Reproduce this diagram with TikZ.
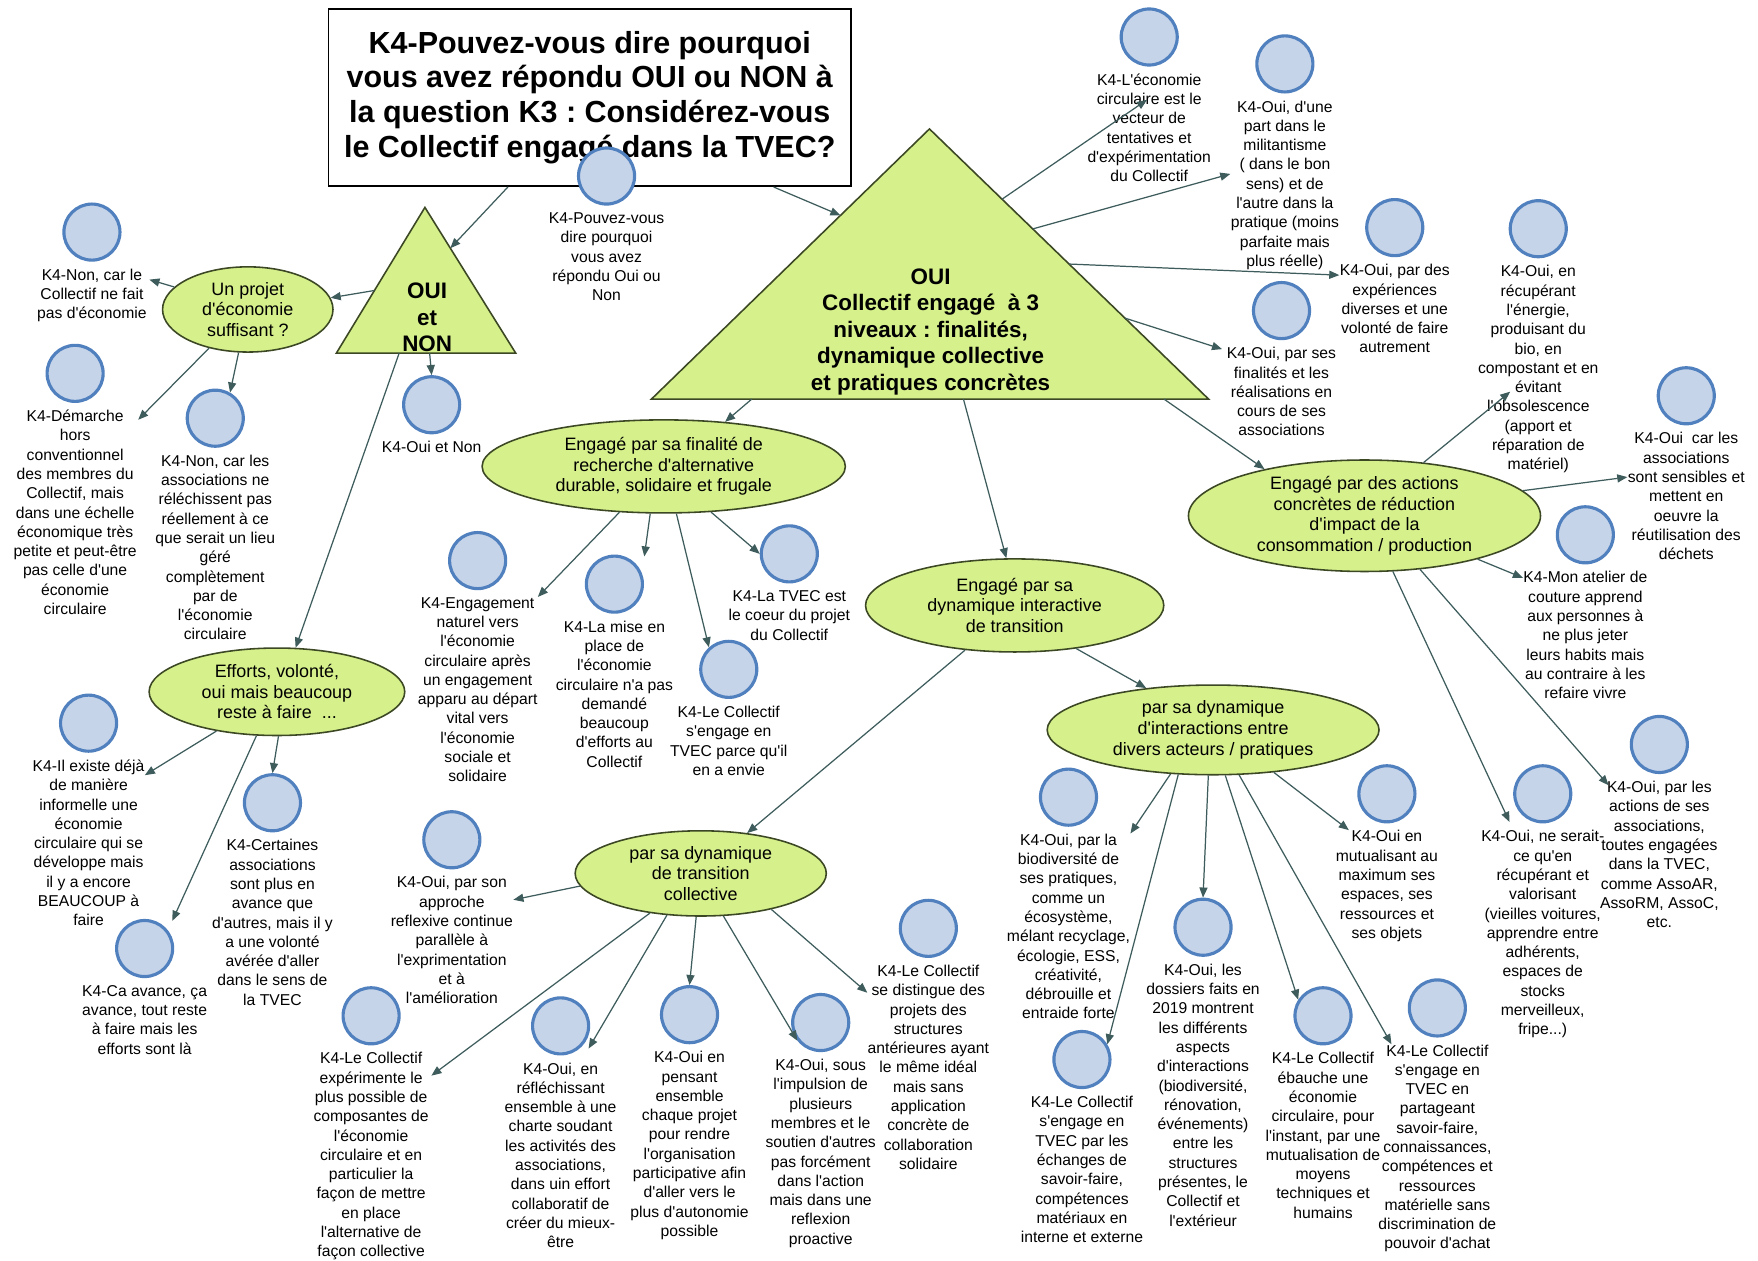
\documentclass[tikz,border=0pt]{standalone}
\usepackage{fontspec}
\setmainfont{Liberation Sans}[Ligatures=TeXOff]
\frenchspacing
\definecolor{bulle}{RGB}{198,212,234}
\definecolor{bullebord}{RGB}{80,128,190}
\definecolor{citron}{RGB}{214,240,140}
\definecolor{citronbord}{RGB}{60,72,36}
\definecolor{fleche}{RGB}{62,92,92}
\usetikzlibrary{arrows.meta,positioning,calc,shapes.geometric}
\newcommand{\petit}{\fontsize{7}{8.6}\selectfont}
\newcommand{\moyen}{\fontsize{8}{9.2}\selectfont}
\tikzset{
  leaf/.style={circle,draw=bullebord,fill=bulle,line width=1.4pt,minimum size=25pt,inner sep=0pt},
  leaftxt/.style={font=\petit,align=center,inner sep=0pt},
  topic/.style={ellipse,draw=citronbord,fill=citron,line width=0.7pt,font=\moyen,align=center,inner sep=0pt},
  tri/.style={draw=citronbord,fill=citron,line width=0.7pt},
  trilab/.style={font=\fontsize{10}{11.8}\selectfont\bfseries,align=center,inner sep=0pt},
  link/.style={-{Triangle[length=4.5pt,width=3.6pt]},fleche,line width=0.55pt},
  titlebox/.style={draw=black,fill=white,line width=0.8pt,font=\fontsize{13.6}{15.5}\selectfont\bfseries,
    align=center,minimum width=233pt,minimum height=79pt,inner sep=0pt},
}

\begin{document}
\begin{tikzpicture}[x=0.5pt,y=-0.5pt]
  \path[use as bounding box,fill=white] (0,0) rectangle (1568,1124);

  % question
  \node[titlebox] (titre) at (526,87) {\raisebox{-2pt}{\parbox{230pt}{\centering K4-Pouvez-vous dire pourquoi\\vous avez répondu OUI ou NON à\\la question K3 : Considérez-vous\\le Collectif engagé dans la TVEC?}}};
  \node[leaf] (cQuestion) at (541,157) {};
  \node[leaftxt,below=3pt of cQuestion] (tQuestion) {K4-Pouvez-vous\\dire pourquoi\\vous avez\\répondu Oui ou\\Non};

  % les deux triangles
  \coordinate (ouiH) at (379,185); \coordinate (ouiG) at (300,315); \coordinate (ouiD) at (460,315);
  \draw[tri] (ouiH) -- (ouiG) -- (ouiD) -- cycle;
  \node[trilab] (ouinon) at (381,283) {OUI\\et\\NON};
  \coordinate (grH) at (829,115); \coordinate (grG) at (581,356); \coordinate (grD) at (1078,356);
  \draw[tri] (grH) -- (grG) -- (grD) -- cycle;
  \node[trilab] (oui) at (830,296) {OUI\\Collectif engagé~ à 3\\niveaux : finalités,\\dynamique collective\\et pratiques concrètes};

  % ellipses
  \node[topic,minimum width=76pt,minimum height=38pt] (projet) at (221,276) {Un projet\\d'économie\\suffisant ?};
  \node[topic,minimum width=114pt,minimum height=39pt] (efforts) at (247,617) {Efforts, volonté,\\oui mais beaucoup\\reste à faire~ ...};
  \node[topic,minimum width=162pt,minimum height=41.5pt] (fin) at (592,416) {Engagé par sa finalité de\\recherche d'alternative\\durable, solidaire et frugale};
  \node[topic,minimum width=133pt,minimum height=41.5pt] (inter) at (905,540) {Engagé par sa\\dynamique interactive\\de transition};
  \node[topic,minimum width=112pt,minimum height=38pt] (trans) at (625,779) {par sa dynamique\\de transition\\collective};
  \node[topic,minimum width=148pt,minimum height=40pt] (inact) at (1082,651) {par sa dynamique\\d'interactions entre\\divers acteurs / pratiques};
  \node[topic,minimum width=157pt,minimum height=49.5pt] (act) at (1217,460) {Engagé par des actions\\concrètes de réduction\\d'impact de la\\consommation / production};

  % reponses : OUI et NON
  \node[leaf] (cNonFait) at (82,207) {};
  \node[leaftxt,below=3pt of cNonFait] (tNonFait) {K4-Non, car le\\Collectif ne fait\\pas d'économie};
  \node[leaf] (cDemarche) at (67,333) {};
  \node[leaftxt,below=3pt of cDemarche] (tDemarche) {K4-Démarche\\hors\\conventionnel\\des membres du\\Collectif, mais\\dans une échelle\\économique très\\petite et peut-être\\pas celle d'une\\économie\\circulaire};
  \node[leaf] (cReflech) at (192,373) {};
  \node[leaftxt,below=3pt of cReflech] (tReflech) {K4-Non, car les\\associations ne\\réléchissent pas\\réellement à ce\\que serait un lieu\\géré\\complètement\\par de\\l'économie\\circulaire};
  \node[leaf] (cOuiNon) at (385,361) {};
  \node[leaftxt,below=3pt of cOuiNon] (tOuiNon) {K4-Oui et Non};
  \node[leaf] (cExiste) at (79,645) {};
  \node[leaftxt,below=3pt of cExiste] (tExiste) {K4-Il existe déjà\\de manière\\informelle une\\économie\\circulaire qui se\\développe mais\\il y a encore\\BEAUCOUP à\\faire};
  \node[leaf] (cCertaines) at (243,716) {};
  \node[leaftxt,below=3pt of cCertaines] (tCertaines) {K4-Certaines\\associations\\sont plus en\\avance que\\d'autres, mais il y\\a une volonté\\avérée d'aller\\dans le sens de\\la TVEC};
  \node[leaf] (cAvance) at (129,846) {};
  \node[leaftxt,below=3pt of cAvance] (tAvance) {K4-Ca avance, ça\\avance, tout reste\\à faire mais les\\efforts sont là};

  % reponses : finalite
  \node[leaf] (cNaturel) at (426,500) {};
  \node[leaftxt,below=3pt of cNaturel] (tNaturel) {K4-Engagement\\naturel vers\\l'économie\\circulaire après\\un engagement\\apparu au départ\\vital vers\\l'économie\\sociale et\\solidaire};
  \node[leaf] (cMise) at (548,521) {};
  \node[leaftxt,below=3pt of cMise] (tMise) {K4-La mise en\\place de\\l'économie\\circulaire n'a pas\\demandé\\beaucoup\\d'efforts au\\Collectif};
  \node[leaf] (cEnvie) at (650,597) {};
  \node[leaftxt,below=3pt of cEnvie] (tEnvie) {K4-Le Collectif\\s'engage en\\TVEC parce qu'il\\en a envie};
  \node[leaf] (cCoeur) at (704,494) {};
  \node[leaftxt,below=3pt of cCoeur] (tCoeur) {K4-La TVEC est\\le coeur du projet\\du Collectif};

  % reponses : transition collective
  \node[leaf] (cReflexive) at (403,749) {};
  \node[leaftxt,below=3pt of cReflexive] (tReflexive) {K4-Oui, par son\\approche\\reflexive continue\\parallèle à\\l'exprimentation\\et à\\l'amélioration};
  \node[leaf] (cExperimente) at (331,906) {};
  \node[leaftxt,below=3pt of cExperimente] (tExperimente) {K4-Le Collectif\\expérimente le\\plus possible de\\composantes de\\l'économie\\circulaire et en\\particulier la\\façon de mettre\\en place\\l'alternative de\\façon collective};
  \node[leaf] (cCharte) at (500,915) {};
  \node[leaftxt,below=3pt of cCharte] (tCharte) {K4-Oui, en\\réfléchissant\\ensemble à une\\charte soudant\\les activités des\\associations,\\dans uin effort\\collaboratif de\\créer du mieux-\\être};
  \node[leaf] (cPensant) at (615,905) {};
  \node[leaftxt,below=3pt of cPensant] (tPensant) {K4-Oui en\\pensant\\ensemble\\chaque projet\\pour rendre\\l'organisation\\participative afin\\d'aller vers le\\plus d'autonomie\\possible};
  \node[leaf] (cImpulsion) at (732,912) {};
  \node[leaftxt,below=3pt of cImpulsion] (tImpulsion) {K4-Oui, sous\\l'impulsion de\\plusieurs\\membres et le\\soutien d'autres\\pas forcément\\dans l'action\\mais dans une\\reflexion\\proactive};
  \node[leaf] (cDistingue) at (828,828) {};
  \node[leaftxt,below=3pt of cDistingue] (tDistingue) {K4-Le Collectif\\se distingue des\\projets des\\structures\\antérieures ayant\\le même idéal\\mais sans\\application\\concrète de\\collaboration\\solidaire};

  % reponses : interactions
  \node[leaf] (cBiodiv) at (953,711) {};
  \node[leaftxt,below=3pt of cBiodiv] (tBiodiv) {K4-Oui, par la\\biodiversité de\\ses pratiques,\\comme un\\écosystème,\\mélant recyclage,\\écologie, ESS,\\créativité,\\débrouille et\\entraide forte};
  \node[leaf] (cEchanges) at (965,945) {};
  \node[leaftxt,below=3pt of cEchanges] (tEchanges) {K4-Le Collectif\\s'engage en\\TVEC par les\\échanges de\\savoir-faire,\\compétences\\matériaux en\\interne et externe};
  \node[leaf] (cDossiers) at (1073,827) {};
  \node[leaftxt,below=3pt of cDossiers] (tDossiers) {K4-Oui, les\\dossiers faits en\\2019 montrent\\les différents\\aspects\\d'interactions\\(biodiversité,\\rénovation,\\événements)\\entre les\\structures\\présentes, le\\Collectif et\\l'extérieur};
  \node[leaf] (cEbauche) at (1180,906) {};
  \node[leaftxt,below=3pt of cEbauche] (tEbauche) {K4-Le Collectif\\ébauche une\\économie\\circulaire, pour\\l'instant, par une\\mutualisation de\\moyens\\techniques et\\humains};
  \node[leaf] (cPartage) at (1282,899) {};
  \node[leaftxt,below=3pt of cPartage] (tPartage) {K4-Le Collectif\\s'engage en\\TVEC en\\partageant\\savoir-faire,\\connaissances,\\compétences et\\ressources\\matérielle sans\\discrimination de\\pouvoir d'achat};
  \node[leaf] (cMutualise) at (1237,708) {};
  \node[leaftxt,below=3pt of cMutualise] (tMutualise) {K4-Oui en\\mutualisant au\\maximum ses\\espaces, ses\\ressources et\\ses objets};

  % reponses : OUI (haut droite)
  \node[leaf] (cVecteur) at (1025,33) {};
  \node[leaftxt,below=3pt of cVecteur] (tVecteur) {K4-L'économie\\circulaire est le\\vecteur de\\tentatives et\\d'expérimentation\\du Collectif};
  \node[leaf] (cMilitant) at (1146,57) {};
  \node[leaftxt,below=3pt of cMilitant] (tMilitant) {K4-Oui, d'une\\part dans le\\militantisme\\( dans le bon\\sens) et de\\l'autre dans la\\pratique (moins\\parfaite mais\\plus réelle)};
  \node[leaf] (cExperiences) at (1244,203) {};
  \node[leaftxt,below=3pt of cExperiences] (tExperiences) {K4-Oui, par des\\expériences\\diverses et une\\volonté de faire\\autrement};
  \node[leaf] (cFinalites) at (1143,277) {};
  \node[leaftxt,below=3pt of cFinalites] (tFinalites) {K4-Oui, par ses\\finalités et les\\réalisations en\\cours de ses\\associations};

  % reponses : actions concretes
  \node[leaf] (cEnergie) at (1372,204) {};
  \node[leaftxt,below=3pt of cEnergie] (tEnergie) {K4-Oui, en\\récupérant\\l'énergie,\\produisant du\\bio, en\\compostant et en\\évitant\\l'obsolescence\\(apport et\\réparation de\\matériel)};
  \node[leaf] (cSensibles) at (1504,353) {};
  \node[leaftxt,below=3pt of cSensibles] (tSensibles) {K4-Oui~ car les\\associations\\sont sensibles et\\mettent en\\oeuvre la\\réutilisation des\\déchets};
  \node[leaf] (cCouture) at (1414,477) {};
  \node[leaftxt,below=3pt of cCouture] (tCouture) {K4-Mon atelier de\\couture apprend\\aux personnes à\\ne plus jeter\\leurs habits mais\\au contraire à les\\refaire vivre};
  \node[leaf] (cValorise) at (1376,708) {};
  \node[leaftxt,below=3pt of cValorise] (tValorise) {K4-Oui, ne serait-\\ce qu'en\\récupérant et\\valorisant\\(vieilles voitures,\\apprendre entre\\adhérents,\\espaces de\\stocks\\merveilleux,\\fripe...)};
  \node[leaf] (cAssos) at (1480,664) {};
  \node[leaftxt,below=3pt of cAssos] (tAssos) {K4-Oui, par les\\actions de ses\\associations,\\toutes engagées\\dans la TVEC,\\comme AssoAR,\\AssoRM, AssoC,\\etc.};

  % fleches
  \draw[link] ([xshift=-36.5pt]titre.south) -- ($(ouiH)!0.28!(ouiD)$);
  \draw[link] ([xshift=82pt]titre.south) -- ($(grH)!0.32!(grG)$);

  \draw[link] ($(ouiH)!0.57!(ouiG)$) -- (projet.8);
  \draw[link] ($(ouiG)!0.52!(ouiD)$) -- (cOuiNon.north);
  \draw[link] ($(ouiG)!0.35!(ouiD)$) -- (efforts.67);
  \draw[link] (projet.163) -- ([shift={(1pt,-5pt)}]tNonFait.north east);
  \draw[link] (projet.225) -- ([shift={(0.5pt,-4.5pt)}]tDemarche.north east);
  \draw[link] (projet.258) -- (cReflech.60);
  \draw[link] (efforts.213) -- ([yshift=-7pt]tExiste.north east);
  \draw[link] (efforts.272) -- (cCertaines.north);
  \draw[link] (efforts.245) -- ([shift={(3pt,3pt)}]cAvance.45);

  \draw[link] ($(grH)!0.26!(grD)$) -- ([shift={(-1pt,12.5pt)}]tVecteur.center);
  \draw[link] ($(grH)!0.37!(grD)$) -- ([yshift=5pt]tMilitant.west);
  \draw[link] ($(grH)!0.50!(grD)$) -- ([yshift=-5pt]tExperiences.north west);
  \draw[link] ($(grH)!0.70!(grD)$) -- ([shift={(-2pt,-1pt)}]tFinalites.north west);
  \draw[link] ($(grG)!0.92!(grD)$) -- (act.155);
  \draw[link] ($(grG)!0.18!(grD)$) -- (fin.36);
  \draw[link] ($(grG)!0.56!(grD)$) -- (inter.100);

  \draw[link] (fin.226) -- (tNaturel.north east);
  \draw[link] (fin.254) -- ([shift={(4pt,3pt)}]cMise.45);
  \draw[link] (fin.285) -- (cEnvie.132);
  \draw[link] (fin.316) -- (cCoeur.west);

  \draw[link] (inter.222) -- (trans.41);
  \draw[link] (inter.325) -- (inact.148);

  \draw[link] (trans.186) -- ([yshift=18pt]tReflexive.east);
  \draw[link] (trans.218) -- ([shift={(1pt,-10.5pt)}]tExperimente.north east);
  \draw[link] (trans.231) -- ([xshift=4pt]cCharte.-50);
  \draw[link] (trans.264) -- (cPensant.north);
  \draw[link] (trans.298) -- (cImpulsion.218);
  \draw[link] (trans.333) -- ([yshift=-12.5pt]tDistingue.north west);

  \draw[link] (inact.226) -- (tBiodiv.north east);
  \draw[link] (inact.232) -- (cEchanges.31);
  \draw[link] (inact.264) -- (cDossiers.north);
  \draw[link] (inact.285) -- (cEbauche.147);
  \draw[link] (inact.300) -- ([xshift=6pt]tPartage.north west);
  \draw[link] (inact.325) -- ([xshift=6pt]tMutualise.north west);

  \draw[link] (act.42) -- ([shift={(-12.5pt,-10pt)}]tEnergie.center);
  \draw[link] (act.9) -- ([yshift=8.5pt]tSensibles.west);
  \draw[link] (act.339) -- ([yshift=-3pt]tCouture.north west);
  \draw[link] (act.297) -- ([shift={(-4pt,-5pt)}]cValorise.215);
  \draw[link] (act.316) -- ([shift={(4pt,-2pt)}]tAssos.north west);
\end{tikzpicture}
\end{document}
